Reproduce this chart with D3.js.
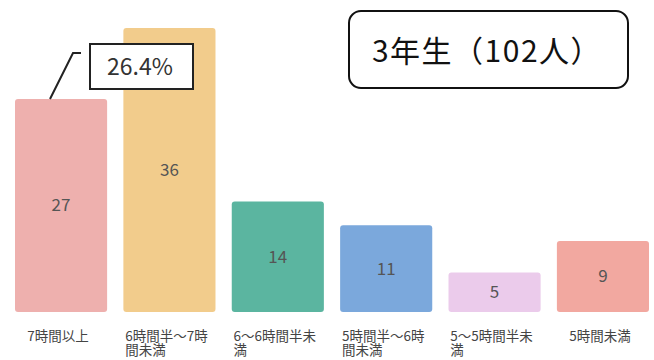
<!DOCTYPE html>
<html>
<head>
<meta charset="utf-8">
<script src="https://cdn.jsdelivr.net/npm/d3@7"></script>
<style>
  body { margin: 0; background: #fff; }
  text { font-family: "Noto Sans CJK JP", "Noto Sans", sans-serif; }
</style>
</head>
<body>
<svg id="chart" width="654" height="360"></svg>
<script>
const categories = ["7時間以上", "6時間半〜7時間未満", "6〜6時間半未満", "5時間半〜6時間未満", "5〜5時間半未満", "5時間未満"];
const counts = [27, 36, 14, 11, 5, 9];
const colors = ["#eeb0ae", "#f2cc8c", "#5bb5a0", "#7ba8dc", "#ebcbeb", "#f2a8a0"];
const title = "3年生（102人）";
const callout = "26.4%";

const svg = d3.select("#chart");

const x = d3.scaleBand()
  .domain(categories)
  .range([15, 649])
  .paddingInner(0.15)
  .paddingOuter(0);

const y = d3.scaleLinear()
  .domain([0, 36])
  .range([312, 28]);

// bars
svg.selectAll("rect.bar")
  .data(categories)
  .join("rect")
  .attr("class", "bar")
  .attr("x", d => x(d))
  .attr("y", (d, i) => y(counts[i]))
  .attr("width", x.bandwidth())
  .attr("height", (d, i) => y(0) - y(counts[i]))
  .attr("rx", 3)
  .attr("fill", (d, i) => colors[i]);

// value labels in the middle of each bar
svg.selectAll("text.val")
  .data(categories)
  .join("text")
  .attr("class", "val")
  .attr("x", d => x(d) + x.bandwidth() / 2)
  .attr("y", (d, i) => (y(counts[i]) + y(0)) / 2)
  .attr("dy", "0.35em")
  .attr("text-anchor", "middle")
  .attr("font-size", 17)
  .attr("fill", "#555")
  .text((d, i) => counts[i]);

// category labels, wrapped after 7 characters, lines left aligned
const labels = svg.selectAll("text.cat")
  .data(categories)
  .join("text")
  .attr("class", "cat")
  .attr("font-size", 13.5)
  .attr("fill", "#444");

labels.each(function(d) {
  const lines = [d.slice(0, 7), d.slice(7)].filter(s => s.length);
  const t = d3.select(this);
  lines.forEach((s, k) => {
    t.append("tspan").attr("y", 341 + k * 14).text(s);
  });
  const w = this.firstChild.getComputedTextLength();
  const cx = x(d) + x.bandwidth() / 2 - 3;
  t.selectAll("tspan").attr("x", cx - w / 2);
});

// callout for the first bar
const b0 = categories[0];
const lx = x(b0) + 35;
svg.append("path")
  .attr("d", `M${lx},${y(counts[0])} L${lx + 23},${y(counts[0]) - 46} L${lx + 31},${y(counts[0]) - 46}`)
  .attr("fill", "none")
  .attr("stroke", "#222")
  .attr("stroke-width", 2);

svg.append("rect")
  .attr("x", 90).attr("y", 44)
  .attr("width", 103).attr("height", 45)
  .attr("fill", "#fff")
  .attr("stroke", "#222")
  .attr("stroke-width", 2);

svg.append("text")
  .attr("x", 140).attr("y", 67)
  .attr("dy", "0.35em")
  .attr("text-anchor", "middle")
  .attr("font-size", 23)
  .attr("fill", "#333")
  .text(callout);

// title box
svg.append("rect")
  .attr("x", 349).attr("y", 11)
  .attr("width", 279).attr("height", 77)
  .attr("rx", 12)
  .attr("fill", "#fff")
  .attr("stroke", "#111")
  .attr("stroke-width", 2);

svg.append("text")
  .attr("x", 487).attr("y", 51)
  .attr("dy", "0.35em")
  .attr("text-anchor", "middle")
  .attr("font-size", 30)
  .attr("letter-spacing", 1.5)
  .attr("fill", "#111")
  .text(title);
</script>
</body>
</html>
